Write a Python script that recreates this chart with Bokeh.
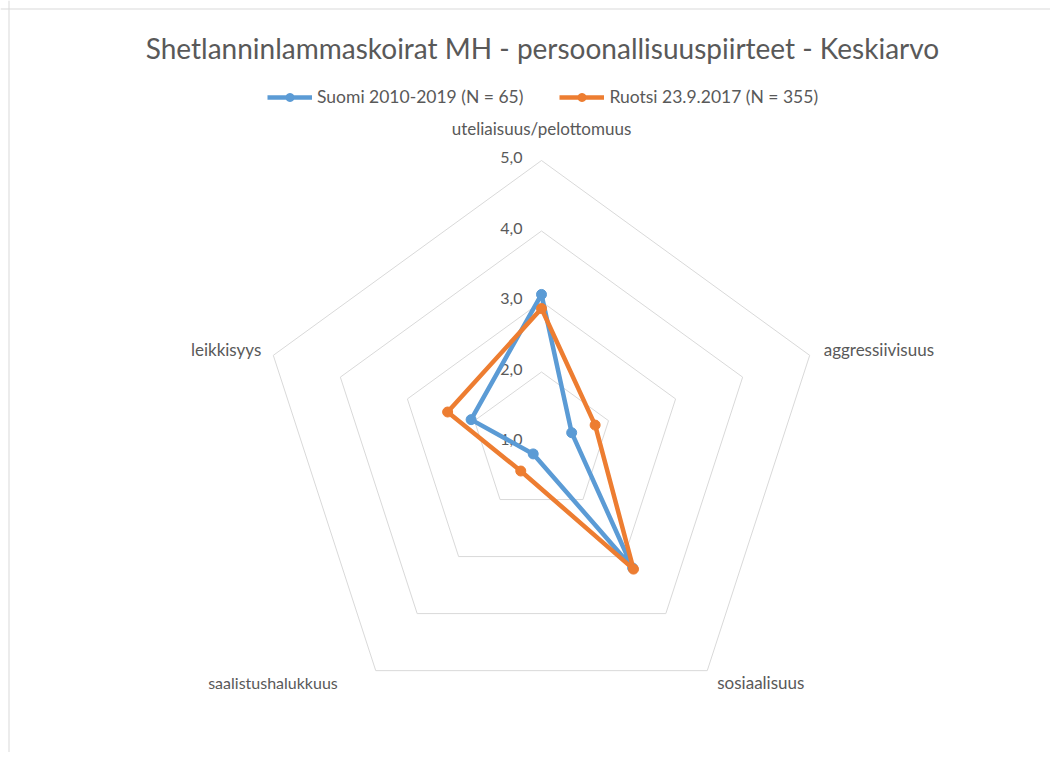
import math
from bokeh.plotting import figure
from bokeh.models import Range1d, Legend, LegendItem, Span
from bokeh.core.properties import value
from bokeh.embed import file_html
from bokeh.resources import INLINE

# ---------------- data ----------------
categories = ["uteliaisuus/pelottomuus", "aggressiivisuus", "sosiaalisuus",
              "saalistushalukkuus", "leikkisyys"]
suomi = [3.1, 1.45, 3.2, 1.2, 2.05]
ruotsi = [2.9, 1.8, 3.22, 1.5, 2.4]
series_names = ["Suomi 2010-2019 (N = 65)", "Ruotsi 23.9.2017 (N = 355)"]
tick_values = [1.0, 2.0, 3.0, 4.0, 5.0]
tick_labels = ["1,0", "2,0", "3,0", "4,0", "5,0"]
title_text = "Shetlanninlammaskoirat MH - persoonallisuuspiirteet - Keskiarvo"
axis_min, axis_max = 1.0, 5.0

# ---------------- style ----------------
BLUE = "#5B9BD5"
ORANGE = "#ED7D31"
TEXT = "#595959"
GRID = "#D9D9D9"
FONT = "Lato"
K = 70.5  # pixels per value unit
CX, CY = 541, 442  # centre in figure pixels

W, H = 1050, 752
p = figure(width=W, height=H, output_backend="svg", toolbar_location=None,
           x_range=Range1d(-CX, W - CX), y_range=Range1d(-(H - CY), CY),
           min_border=0)
p.axis.visible = False
p.grid.visible = False
p.outline_line_color = None
p.background_fill_color = "white"
p.border_fill_color = "white"

n = len(categories)
angles = [2 * math.pi * i / n for i in range(n)]


def pos(v, a):
    r = (v - axis_min) * K
    return r * math.sin(a), r * math.cos(a)


# chart border (top & left visible in reference)
p.add_layout(Span(location=8 - CX + 0.5, dimension="height", line_color=GRID, line_width=1))
p.add_layout(Span(location=CY - 8 - 0.5, dimension="width", line_color=GRID, line_width=1))

# grid pentagons
gx, gy = [], []
for t in tick_values[1:]:
    pts = [pos(t, a) for a in angles]
    pts.append(pts[0])
    gx.append([q[0] for q in pts])
    gy.append([q[1] for q in pts])
p.multi_line(gx, gy, line_color=GRID, line_width=1)

# tick labels
tx = [pos(t, 0)[0] - 19 for t in tick_values]
ty = [pos(t, 0)[1] + 3 for t in tick_values]
p.text(tx, ty, text=tick_labels, text_font=value(FONT), text_font_size="16px",
       text_color=TEXT, text_align="right", text_baseline="middle")

# category labels
offsets = [(0, 32, "center"), (14, 6, "left"), (10, -12, "left"),
           (-38, -12, "right"), (-12, 6, "right")]
sizes = ["17px", "17px", "17px", "16px", "17px"]
for cat, a, (dx, dy, al), fs in zip(categories, angles, offsets, sizes):
    x0, y0 = pos(axis_max, a)
    p.text([x0 + dx], [y0 + dy], text=[cat], text_font=value(FONT),
           text_font_size=fs, text_color=TEXT, text_align=al,
           text_baseline="middle")

# series
renderers = []
for vals, col in [(suomi, BLUE), (ruotsi, ORANGE)]:
    pts = [pos(v, a) for v, a in zip(vals, angles)]
    xs = [q[0] for q in pts]
    ys = [q[1] for q in pts]
    ln = p.line(xs + [xs[0]], ys + [ys[0]], line_color=col, line_width=4.5,
                line_join="round")
    sc = p.scatter(xs, ys, size=10, fill_color=col, line_color=col)
    renderers.append((ln, sc))

# title
p.text([1], [CY - 47], text=[title_text], text_font=value(FONT), text_font_size="28px",
       text_color=TEXT, text_align="center", text_baseline="middle")

legend = Legend(items=[LegendItem(label=series_names[0], renderers=list(renderers[0])),
                       LegendItem(label=series_names[1], renderers=list(renderers[1]))],
                orientation="horizontal", location=(267, H - 107), padding=0, margin=0,
                spacing=36, glyph_width=45, glyph_height=20, label_standoff=5,
                border_line_color=None, background_fill_alpha=0,
                label_text_font=FONT, label_text_font_size="17.5px",
                label_text_color=TEXT)
p.add_layout(legend)

open("out.html", "w").write(file_html(p, INLINE))
